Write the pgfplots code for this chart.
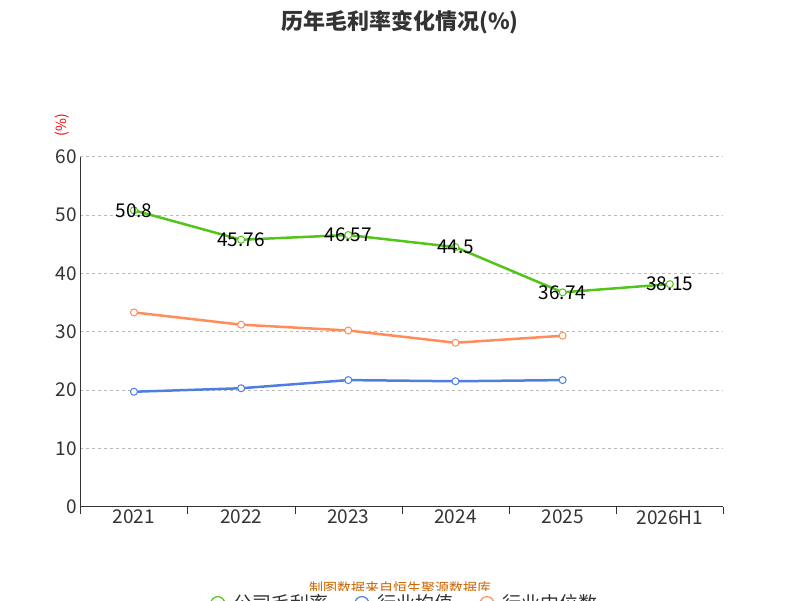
\documentclass[border=0pt]{standalone}
\usepackage{pgfplots}
\pgfplotsset{compat=1.18}
\usepackage{fontspec}
\setmainfont{Noto Sans CJK SC}
\definecolor{cg}{HTML}{52C41A}
\definecolor{cb}{HTML}{4E7FE0}
\definecolor{co}{HTML}{FF8C5A}
\definecolor{tx}{HTML}{333333}
\begin{document}
\begin{tikzpicture}[x=1pt,y=1pt]
\useasboundingbox (0,0) rectangle (800,600);
\node[font=\fontsize{22}{24}\selectfont\bfseries, text=tx] at (400,578) {历年毛利率变化情况(\%)};
\node[font=\fontsize{14}{15}\selectfont, text=red, rotate=90] at (62,475) {(\%)};
\node[font=\fontsize{14}{15}\selectfont, text=orange!80!black] at (400,12) {制图数据来自恒生聚源数据库};
\begin{axis}[at={(125,160)}, anchor=origin, scale only axis, width=643pt, height=350pt,
 xmin=-0.5, xmax=5.5, ymin=0, ymax=60, ytick={0,10,...,60},
 xtick={0,...,5}, xticklabels={2021,2022,2023,2024,2025,2026H1},
 extra x ticks={-0.5,0.5,...,5.5}, extra x tick labels={},
 extra x tick style={major tick length=7pt, tick style={draw=tx}},
 major tick length=0pt,
 ytick style={draw=tx},
 tick align=outside,
 axis x line*=bottom, axis y line*=left,
 axis line style={tx, line width=0.8pt},
 ymajorgrids, grid style={dashed, gray!55, line width=0.8pt},
 tick label style={font=\fontsize{19}{20}\selectfont, text=tx},
 /pgf/number format/assume math mode=true,
 legend style={at={(0.5,-0.277)}, anchor=center, draw=none, legend columns=3,
   font=\fontsize{19}{20}\selectfont, text=tx, /tikz/every even column/.append style={column sep=18pt}},
 legend image code/.code={\draw[#1, line width=1.5pt] (0,0)--(0.9cm,0); \draw[#1, fill=white, line width=1.2pt] (0.45cm,0) circle (7pt);},
]
\addplot[cg, line width=2.5pt, mark=*, mark options={fill=white, line width=1pt}, mark size=3.5pt,
 nodes near coords, point meta=explicit symbolic,
 every node near coord/.style={anchor=center, font=\fontsize{19}{20}\selectfont, text=black}]
 coordinates {(0,50.8)[50.8] (1,45.76)[45.76] (2,46.57)[46.57] (3,44.5)[44.5] (4,36.74)[36.74] (5,38.15)[38.15]};
\addlegendentry{公司毛利率}
\addplot[cb, line width=2.5pt, mark=*, mark options={fill=white, line width=1pt}, mark size=3.5pt]
 coordinates {(0,19.7) (1,20.3) (2,21.7) (3,21.5) (4,21.7)};
\addlegendentry{行业均值}
\addplot[co, line width=2.5pt, mark=*, mark options={fill=white, line width=1pt}, mark size=3.5pt]
 coordinates {(0,33.3) (1,31.2) (2,30.2) (3,28.1) (4,29.3)};
\addlegendentry{行业中位数}
\end{axis}
\end{tikzpicture}
\end{document}
